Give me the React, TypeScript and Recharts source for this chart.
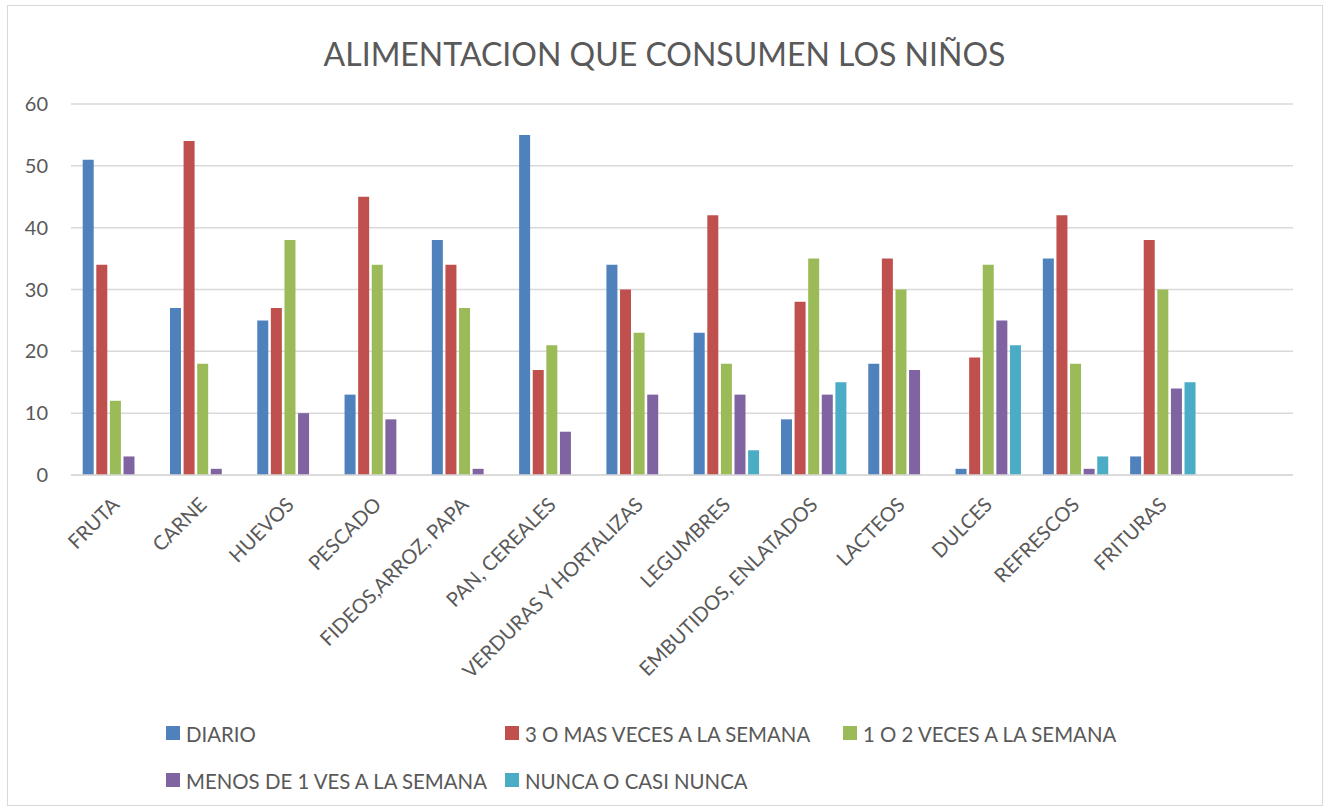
import React from "react";
import { BarChart, Bar, XAxis, YAxis, CartesianGrid } from "recharts";

const CATEGORIES = [
  "FRUTA", "CARNE", "HUEVOS", "PESCADO", "FIDEOS,ARROZ, PAPA", "PAN, CEREALES",
  "VERDURAS Y HORTALIZAS", "LEGUMBRES", "EMBUTIDOS, ENLATADOS", "LACTEOS",
  "DULCES", "REFRESCOS", "FRITURAS", "",
];

const DIARIO = [51, 27, 25, 13, 38, 55, 34, 23, 9, 18, 1, 35, 3, null];
const TRES_O_MAS = [34, 54, 27, 45, 34, 17, 30, 42, 28, 35, 19, 42, 38, null];
const UNO_O_DOS = [12, 18, 38, 34, 27, 21, 23, 18, 35, 30, 34, 18, 30, null];
const MENOS_DE_UNO = [3, 1, 10, 9, 1, 7, 13, 13, 13, 17, 25, 1, 14, null];
const NUNCA = [0, 0, 0, 0, 0, 0, 0, 4, 15, 0, 21, 3, 15, null];

const Y_TICKS = [0, 10, 20, 30, 40, 50, 60];

const SERIES = [
  { key: "diario", name: "DIARIO", color: "#4F81BD", values: DIARIO },
  { key: "tres", name: "3 O MAS VECES A LA SEMANA", color: "#C0504D", values: TRES_O_MAS },
  { key: "uno", name: "1 O 2 VECES A LA SEMANA", color: "#9BBB59", values: UNO_O_DOS },
  { key: "menos", name: "MENOS DE 1 VES A LA SEMANA", color: "#8064A2", values: MENOS_DE_UNO },
  { key: "nunca", name: "NUNCA O CASI NUNCA", color: "#4BACC6", values: NUNCA },
];

const data = CATEGORIES.map((name, i) => {
  const row: Record<string, string | number | null> = { name };
  SERIES.forEach((s) => { row[s.key] = s.values[i]; });
  return row;
});

const FONT = "Lato, 'Open Sans', sans-serif";
const TEXT = "#595959";
const GRID = "#d9d9d9";

function CategoryTick(props: any) {
  const { x, y, payload } = props;
  if (!payload.value) return null;
  const ax = x + 6;
  const ay = y + 23;
  return (
    <text
      x={ax}
      y={ay}
      transform={`rotate(-45, ${ax}, ${ay})`}
      textAnchor="end"
      fill={TEXT}
      fontSize={20}
      fontFamily={FONT}
    >
      {payload.value}
    </text>
  );
}

// legend laid out as Excel does: 3 columns, wrapping
const LEGEND_COLS = [166, 505, 843];
const LEGEND_ROWS = [742, 789];

export default function App() {
  return (
    <div style={{ position: "absolute", left: 0, top: 0, width: 1329, height: 810, background: "#fff", fontFamily: FONT }}>
      <div style={{ position: "absolute", left: 7, top: 5, width: 1316, height: 801, border: `1.5px solid ${GRID}`, boxSizing: "border-box" }} />
      <div style={{ position: "absolute", left: 0, top: 37.6, width: 1329, textAlign: "center", fontSize: 32, lineHeight: "32px", color: TEXT, whiteSpace: "nowrap" }}>
        ALIMENTACION QUE CONSUMEN LOS NIÑOS
      </div>
      <div style={{ position: "absolute", left: 0, top: 0 }}>
        <BarChart
          width={1329}
          height={810}
          data={data}
          margin={{ top: 104, right: 36, bottom: 305, left: 11 }}
          barCategoryGap={11.7}
          barGap={2.6}
        >
          <CartesianGrid vertical={false} stroke={GRID} strokeWidth={1.5} />
          <XAxis
            dataKey="name"
            interval={0}
            height={30}
            axisLine={{ stroke: GRID, strokeWidth: 1.5 }}
            tickLine={false}
            tick={<CategoryTick />}
          />
          <YAxis
            width={60}
            domain={[0, 60]}
            ticks={Y_TICKS}
            axisLine={false}
            tickLine={false}
            tickMargin={17}
            tick={{ fill: TEXT, fontSize: 20, fontFamily: FONT }}
          />
          {SERIES.map((s) => (
            <Bar key={s.key} dataKey={s.key} name={s.name} fill={s.color} isAnimationActive={false} />
          ))}
        </BarChart>
      </div>
      {SERIES.map((s, i) => {
        const left = LEGEND_COLS[i % 3];
        const base = LEGEND_ROWS[Math.floor(i / 3)];
        return (
          <div key={s.key} style={{ position: "absolute", left, top: base - 18.1, height: 21, display: "flex", alignItems: "flex-start", whiteSpace: "nowrap" }}>
            <div style={{ width: 14, height: 14, background: s.color, marginTop: 2, marginRight: 6 }} />
            <span style={{ fontSize: 20.4, lineHeight: "20.4px", color: TEXT }}>{s.name}</span>
          </div>
        );
      })}
    </div>
  );
}
